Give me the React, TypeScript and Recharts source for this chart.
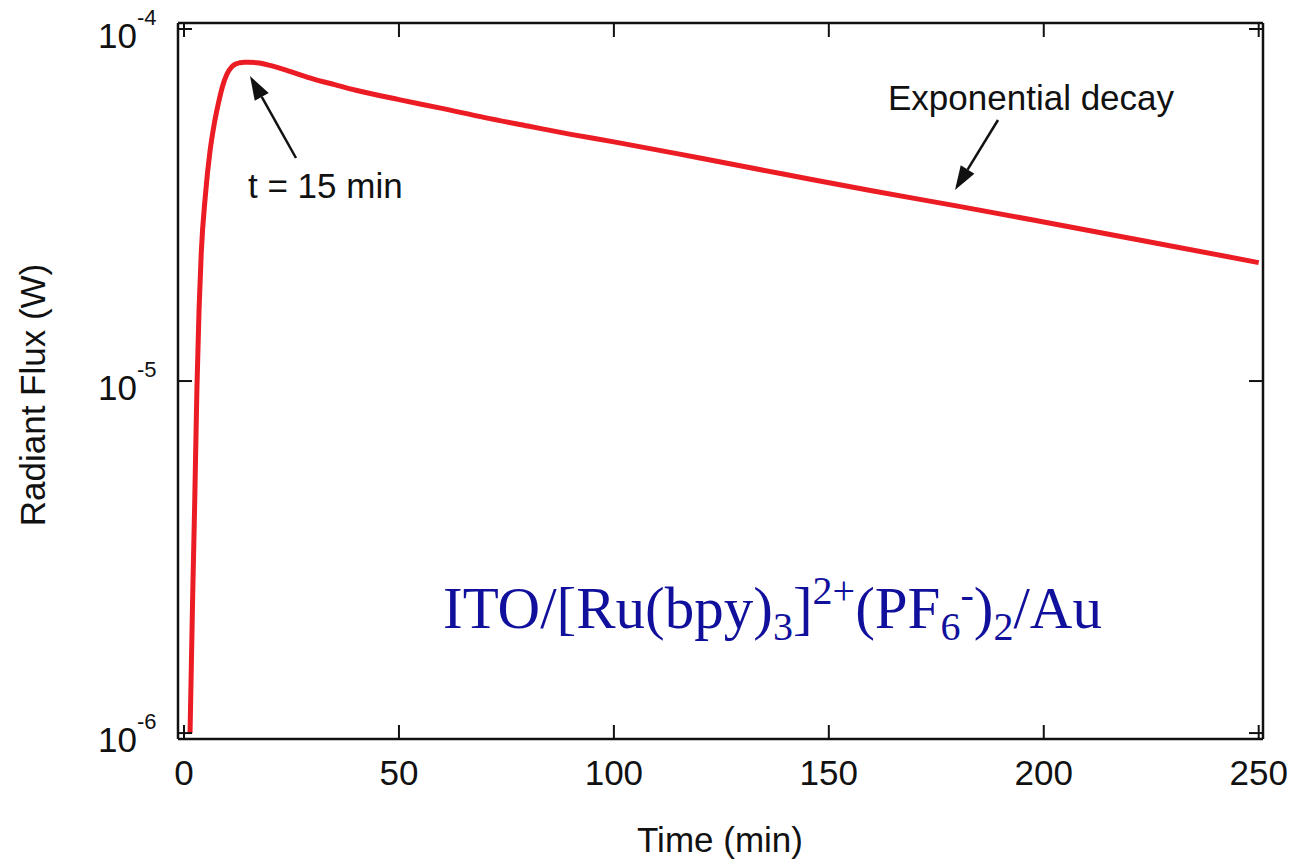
import { LineChart, Line, XAxis, YAxis } from 'recharts';

// Time (min) and radiant flux (W)
const timeMin = [
  1.4, 2.0, 2.5, 3.0, 3.5, 4.0, 5.0, 6.0, 7.0, 8.0, 9.0, 10, 11, 12, 13, 14, 15, 17, 20, 25, 30, 35,
  40, 50, 60, 70, 80, 90, 100, 120, 140, 160, 180, 200, 225, 250,
];
const fluxW = [
  1.0e-6, 2.4e-6, 4.6e-6, 9.5e-6, 1.6e-5, 2.3e-5, 3.4e-5, 4.45e-5, 5.35e-5, 6.15e-5, 6.9e-5, 7.45e-5,
  7.78e-5, 7.95e-5, 8.02e-5, 8.05e-5, 8.05e-5, 8.02e-5, 7.88e-5, 7.55e-5, 7.22e-5, 6.95e-5,
  6.7e-5, 6.3e-5, 5.95e-5, 5.6e-5, 5.3e-5, 5.02e-5, 4.78e-5, 4.3e-5, 3.86e-5, 3.47e-5, 3.14e-5,
  2.83e-5, 2.48e-5, 2.17e-5,
];
const xTicks = [0, 50, 100, 150, 200, 250];
const yTicks = [1e-6, 1e-5, 1e-4];
const yExponents = ['-6', '-5', '-4'];

const data = timeMin.map((t, i) => ({ t, flux: fluxW[i] }));

const FONT = '"Liberation Sans", Arial, sans-serif';
const TICK_LEN = 14;

const BottomTick = (props: any) => {
  const { x, y, payload } = props;
  return (
    <g>
      <line x1={x} y1={y} x2={x} y2={y - TICK_LEN} stroke="#111" strokeWidth={2} />
      <text x={x} y={y + 46} textAnchor="middle" fontSize={35} fontFamily={FONT} fill="#111">
        {payload.value}
      </text>
    </g>
  );
};

const TopTick = (props: any) => {
  const { x, y } = props;
  return <line x1={x} y1={y} x2={x} y2={y + TICK_LEN} stroke="#111" strokeWidth={2} />;
};

const LeftTick = (props: any) => {
  const { x, y, payload } = props;
  const exp = yExponents[yTicks.indexOf(payload.value)] ?? '';
  return (
    <g>
      <line x1={x} y1={y} x2={x + TICK_LEN} y2={y} stroke="#111" strokeWidth={2} />
      <text x={x - 41} y={y + 19} textAnchor="end" fontSize={35} fontFamily={FONT} fill="#111">
        10
      </text>
      <text x={x - 41} y={y - 4} textAnchor="start" fontSize={22} fontFamily={FONT} fill="#111">
        {exp}
      </text>
    </g>
  );
};

const RightTick = (props: any) => {
  const { x, y } = props;
  return <line x1={x} y1={y} x2={x - TICK_LEN} y2={y} stroke="#111" strokeWidth={2} />;
};

function Arrow({ from, to }: { from: [number, number]; to: [number, number] }) {
  const [x1, y1] = from;
  const [x2, y2] = to;
  const dx = x2 - x1;
  const dy = y2 - y1;
  const len = Math.hypot(dx, dy);
  const ux = dx / len;
  const uy = dy / len;
  const headLen = 24;
  const headW = 8;
  const bx = x2 - ux * headLen;
  const by = y2 - uy * headLen;
  return (
    <g>
      <line x1={x1} y1={y1} x2={bx} y2={by} stroke="#111" strokeWidth={2.5} />
      <polygon
        points={`${x2},${y2} ${bx - uy * headW},${by + ux * headW} ${bx + uy * headW},${by - ux * headW}`}
        fill="#111"
      />
    </g>
  );
}

export default function App() {
  return (
    <div style={{ position: 'absolute', left: 0, top: 0, width: 1290, height: 860, background: '#fff' }}>
      <LineChart
        width={1290}
        height={860}
        data={data}
        margin={{ top: 13, right: 17, bottom: 61, left: 88 }}
      >
        <XAxis
          xAxisId="bottom"
          dataKey="t"
          type="number"
          domain={[-1.4, 251]}
          allowDataOverflow
          ticks={xTicks}
          tickLine={false}
          tickSize={0}
          tickMargin={0}
          height={60}
          axisLine={{ stroke: '#111', strokeWidth: 2.5 }}
          tick={<BottomTick />}
        />
        <XAxis
          xAxisId="top"
          orientation="top"
          dataKey="t"
          type="number"
          domain={[-1.4, 251]}
          allowDataOverflow
          ticks={xTicks}
          tickLine={false}
          tickSize={0}
          tickMargin={0}
          height={10}
          axisLine={{ stroke: '#111', strokeWidth: 2.5 }}
          tick={<TopTick />}
        />
        <YAxis
          yAxisId="left"
          scale="log"
          type="number"
          domain={[9.62e-7, 1.04e-4]}
          allowDataOverflow
          ticks={yTicks}
          tickLine={false}
          tickSize={0}
          tickMargin={0}
          width={90}
          axisLine={{ stroke: '#111', strokeWidth: 2.5 }}
          tick={<LeftTick />}
        />
        <YAxis
          yAxisId="right"
          orientation="right"
          scale="log"
          type="number"
          domain={[9.62e-7, 1.04e-4]}
          allowDataOverflow
          ticks={yTicks}
          tickLine={false}
          tickSize={0}
          tickMargin={0}
          width={10}
          axisLine={{ stroke: '#111', strokeWidth: 2.5 }}
          tick={<RightTick />}
        />
        <Line
          xAxisId="bottom"
          yAxisId="left"
          dataKey="flux"
          type="monotone"
          stroke="#ec1c24"
          strokeWidth={5}
          dot={false}
          isAnimationActive={false}
        />
      </LineChart>

      <svg
        width={1290}
        height={860}
        style={{ position: 'absolute', left: 0, top: 0, pointerEvents: 'none' }}
      >
        <text x={720} y={852} textAnchor="middle" fontSize={35} fontFamily={FONT} fill="#111">
          Time (min)
        </text>
        <text
          transform="translate(45,395) rotate(-90)"
          textAnchor="middle"
          fontSize={35}
          fontFamily={FONT}
          fill="#111"
        >
          Radiant Flux (W)
        </text>

        <Arrow from={[296, 158]} to={[250, 76]} />
        <text x={248} y={198} fontSize={35} fontFamily={FONT} fill="#111">
          t = 15 min
        </text>

        <Arrow from={[998, 120]} to={[955, 190]} />
        <text x={888} y={110} fontSize={35} fontFamily={FONT} fill="#111">
          Exponential decay
        </text>

        <text x={443} y={628} fontSize={59} fontFamily='"Liberation Serif", "Times New Roman", serif' fill="#10109c">
          ITO/[Ru(bpy)
          <tspan fontSize={40} dy={12}>3</tspan>
          <tspan dy={-12}>]</tspan>
          <tspan fontSize={40} dy={-24}>2+</tspan>
          <tspan dy={24}>(PF</tspan>
          <tspan fontSize={40} dy={12}>6</tspan>
          <tspan fontSize={40} dy={-32}>-</tspan>
          <tspan dy={20}>)</tspan>
          <tspan fontSize={40} dy={12}>2</tspan>
          <tspan dy={-12}>/Au</tspan>
        </text>
      </svg>
    </div>
  );
}
